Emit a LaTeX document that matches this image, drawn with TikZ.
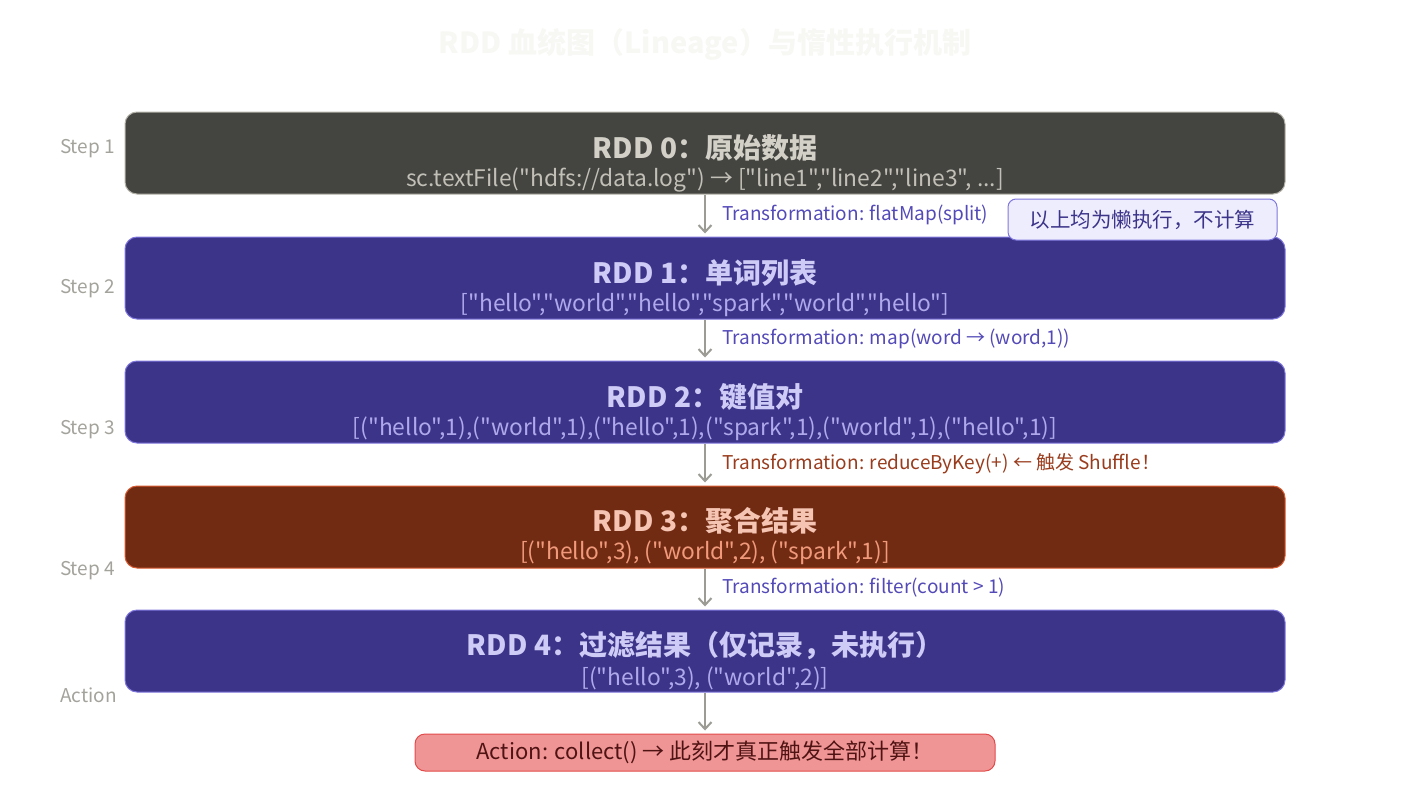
\documentclass[tikz,border=0pt]{standalone}
\usepackage{fontspec}
\setmainfont{Noto Sans CJK SC}[Ligatures=TeXOff]
\usetikzlibrary{arrows.meta}

\definecolor{inkgray}{HTML}{444441}
\definecolor{inkgrayline}{HTML}{B4B2A9}
\definecolor{inkgraytext}{HTML}{D3D1C7}
\definecolor{inkgraysub}{HTML}{C2C0B6}
\definecolor{purfill}{HTML}{3C3489}
\definecolor{purline}{HTML}{7F77DD}
\definecolor{purtext}{HTML}{CECBF6}
\definecolor{pursub}{HTML}{AFA9EC}
\definecolor{purlabel}{HTML}{534AB7}
\definecolor{rustfill}{HTML}{712B13}
\definecolor{rustline}{HTML}{D85A30}
\definecolor{rusttext}{HTML}{F5C4B3}
\definecolor{rustsub}{HTML}{F0997B}
\definecolor{rustlabel}{HTML}{993C1D}
\definecolor{redfill}{HTML}{F09595}
\definecolor{redline}{HTML}{E24B4A}
\definecolor{redtext}{HTML}{501313}
\definecolor{notefill}{HTML}{EEEDFE}
\definecolor{arrowgray}{HTML}{9C9B94}
\definecolor{steptext}{HTML}{A3A29B}
\definecolor{titletext}{HTML}{F7F7F4}

\begin{document}
\begin{tikzpicture}
[
	x=1pt,y=-1pt,
	rddbox/.style={rectangle,rounded corners=12pt,minimum width=1160pt,minimum height=82pt,inner sep=0pt,line width=1pt},
	rddtitle/.style={font=\fontsize{28}{32}\selectfont\bfseries,inner sep=0pt},
	rddsub/.style={font=\fontsize{22.8}{26}\selectfont,inner sep=0pt},
	steplbl/.style={anchor=east,text=steptext,font=\fontsize{19}{22}\selectfont,inner sep=0pt},
	translbl/.style={anchor=west,font=\fontsize{19}{22}\selectfont,inner sep=0pt},
	flowarrow/.style={-{Straight Barb[length=7pt,width=13pt,line width=2pt]},arrowgray,line width=2pt,shorten >=3pt}
]

	% frame
	\useasboundingbox (0,0) rectangle (1410,792);

	% title
	\node[font=\fontsize{29}{32}\selectfont\bfseries,text=titletext] (title) at (705,44) {RDD 血统图（Lineage）与惰性执行机制};

	% rdd boxes
	\node[rddbox,fill=inkgray,draw=inkgrayline] (rdd0) at (705,153) {};
	\node[rddbox,fill=purfill,draw=purline] (rdd1) at (705,278) {};
	\node[rddbox,fill=purfill,draw=purline] (rdd2) at (705,402) {};
	\node[rddbox,fill=rustfill,draw=rustline] (rdd3) at (705,527) {};
	\node[rddbox,fill=purfill,draw=purline] (rdd4) at (705,651) {};

	\node[rddtitle,text=inkgraytext] (t0) at (705,148) {RDD 0：原始数据};
	\node[rddsub,text=inkgraysub] (s0) at (705,180) {sc.textFile("hdfs://data.log") → ["line1","line2","line3", ...]};
	\node[rddtitle,text=purtext] (t1) at (705,273) {RDD 1：单词列表};
	\node[rddsub,text=pursub] (s1) at (705,305) {["hello","world","hello","spark","world","hello"]};
	\node[rddtitle,text=purtext] (t2) at (705,397) {RDD 2：键值对};
	\node[rddsub,text=pursub] (s2) at (705,429) {[("hello",1),("world",1),("hello",1),("spark",1),("world",1),("hello",1)]};
	\node[rddtitle,text=rusttext] (t3) at (705,521) {RDD 3：聚合结果};
	\node[rddsub,text=rustsub] (s3) at (705,553) {[("hello",3), ("world",2), ("spark",1)]};
	\node[rddtitle,text=purtext] (t4) at (705,646) {RDD 4：过滤结果（仅记录，未执行）};
	\node[rddsub,text=pursub] (s4) at (705,678) {[("hello",3), ("world",2)]};

	% step labels
	\node[steplbl] (step1) at (115,149) {Step 1};
	\node[steplbl] (step2) at (115,289) {Step 2};
	\node[steplbl] (step3) at (115,430) {Step 3};
	\node[steplbl] (step4) at (115,571) {Step 4};
	\node[steplbl] (stepact) at (117,695) {Action};

	% action
	\node[rectangle,rounded corners=10pt,minimum width=580pt,minimum height=37pt,inner sep=0pt,line width=1pt,
	  fill=redfill,draw=redline,text=redtext,font=\fontsize{22}{26}\selectfont] (act) at (705,752.5)
	  {Action: collect() → 此刻才真正触发全部计算！};

	% lineage arrows
	\draw[flowarrow] (rdd0) -- (rdd1);
	\draw[flowarrow] (rdd1) -- (rdd2);
	\draw[flowarrow] (rdd2) -- (rdd3);
	\draw[flowarrow] (rdd3) -- (rdd4);
	\draw[flowarrow] (rdd4) -- (act);

	\node[translbl,text=purlabel] (tr1) at (722,214.5) {Transformation: flatMap(split)};
	\node[translbl,text=purlabel] (tr2) at (722,338.5) {Transformation: map(word → (word,1))};
	\node[translbl,text=rustlabel] (tr3) at (722,463.5) {Transformation: reduceByKey(+) ← 触发 Shuffle！};
	\node[translbl,text=purlabel] (tr4) at (722,587.5) {Transformation: filter(count > 1)};

	% lazy note
	\node[rectangle,rounded corners=8pt,minimum width=269pt,minimum height=41pt,inner sep=0pt,line width=1pt,
	  fill=notefill,draw=purline,text=purfill,font=\fontsize{20.5}{24}\selectfont] (lazy) at (1142.5,219.5)
	  {以上均为懒执行，不计算};

\end{tikzpicture}
\end{document}
